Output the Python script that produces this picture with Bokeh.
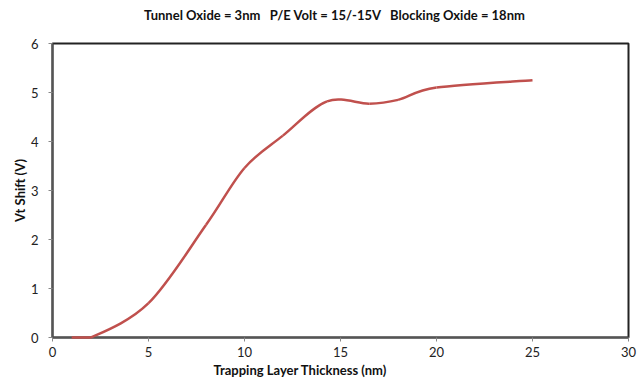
from bokeh.plotting import figure
from bokeh.models import Range1d, FixedTicker, Title, ColumnDataSource
from bokeh.core.properties import value
from bokeh.embed import file_html
from bokeh.resources import INLINE

# Data
thickness = [1, 2, 5, 8, 10, 12, 14.3, 16.5, 18, 20, 25]
vt_shift = [0.0, 0.0, 0.7, 2.3, 3.46, 4.12, 4.82, 4.77, 4.85, 5.1, 5.25]
x_ticks = [0, 5, 10, 15, 20, 25, 30]
y_ticks = [0, 1, 2, 3, 4, 5, 6]
NB = "\u00a0"
title_text = "Tunnel Oxide = 3nm" + NB * 2 + " P/E Volt = 15/-15V" + NB * 2 + " Blocking Oxide = 18nm"
x_label = "Trapping Layer Thickness (nm)"
y_label = "Vt Shift (V)"

FONT = "Lato"
RED = "#C0504D"

p = figure(width=642, height=384, output_backend="svg", toolbar_location=None,
           x_range=Range1d(0, 30), y_range=Range1d(0, 6),
           min_border_left=52, min_border_right=14, min_border_top=43, min_border_bottom=47)

p.grid.visible = False
p.outline_line_color = "#222222"
p.outline_line_width = 2
p.background_fill_color = "white"
p.border_fill_color = "white"

for ax in (p.xaxis, p.yaxis):
    ax.axis_line_color = "#555555"
    ax.axis_line_width = 2
    ax.major_tick_line_color = "#888888"
    ax.major_tick_out = 4
    ax.major_tick_in = 0
    ax.minor_tick_line_color = None
    ax.major_label_text_font = FONT
    ax.major_label_text_font_size = "13px"
    ax.major_label_text_color = "#222222"
p.xaxis.ticker = FixedTicker(ticks=x_ticks)
p.yaxis.ticker = FixedTicker(ticks=y_ticks)
p.xaxis.major_label_standoff = 5
p.yaxis.major_label_standoff = 10

p.yaxis.axis_label = y_label
p.yaxis.axis_label_text_font = FONT
p.yaxis.axis_label_text_font_size = "13px"
p.yaxis.axis_label_text_font_style = "bold"
p.yaxis.axis_label_text_color = "#111111"
p.yaxis.axis_label_standoff = 0

p.add_layout(Title(text=x_label, align="left", offset=161, text_font=FONT,
                   text_font_size="13px", text_font_style="bold", text_color="#111111",
                   standoff=0), "below")

# Chart title, placed above the frame as in the reference
t = p.text(x=[14.7], y=[6.59], text=[title_text], text_font=value(FONT), text_font_size="13px",
           text_font_style="bold", text_color="#111111", text_align="center",
           text_baseline="middle")
t.level = "overlay"

# Excel-like smoothed line: cubic Bezier segments through the data points
# (control points kept inside the plotted range, as the chart clips there)
n = len(thickness)
pts = list(zip(thickness, vt_shift))
x0, y0, x1, y1, cx0, cy0, cx1, cy1 = [], [], [], [], [], [], [], []
for i in range(n - 1):
    pm = pts[i - 1] if i > 0 else pts[i]
    pa = pts[i]
    pb = pts[i + 1]
    pn = pts[i + 2] if i + 2 < n else pts[i + 1]
    x0.append(pa[0]); y0.append(pa[1]); x1.append(pb[0]); y1.append(pb[1])
    cx0.append(pa[0] + (pb[0] - pm[0]) / 6); cy0.append(max(0, pa[1] + (pb[1] - pm[1]) / 6))
    cx1.append(pb[0] - (pn[0] - pa[0]) / 6); cy1.append(max(0, pb[1] - (pn[1] - pa[1]) / 6))
src = ColumnDataSource(dict(x0=x0, y0=y0, x1=x1, y1=y1, cx0=cx0, cy0=cy0, cx1=cx1, cy1=cy1))
r = p.bezier(x0="x0", y0="y0", x1="x1", y1="y1", cx0="cx0", cy0="cy0", cx1="cx1", cy1="cy1",
             source=src, line_color=RED, line_width=2.5)
r.level = "overlay"

open("out.html", "w").write(file_html(p, INLINE))
